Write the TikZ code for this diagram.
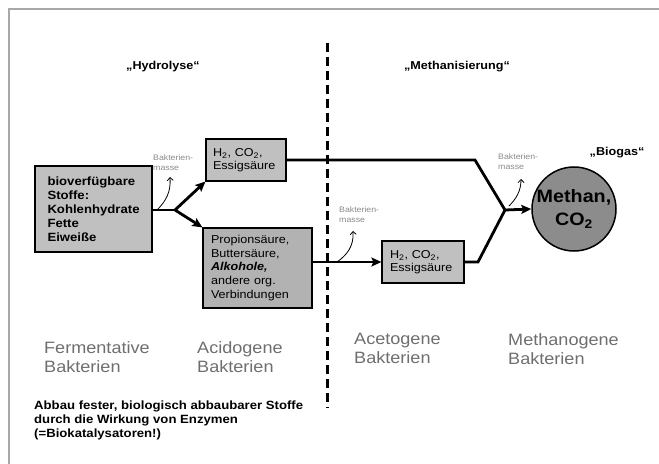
\documentclass[tikz,border=0pt]{standalone}
\usepackage{fontspec}
\setmainfont{Liberation Sans}[FakeStretch=1.1]
\usetikzlibrary{arrows.meta}
\definecolor{boxgray}{HTML}{C0C0C0}
\definecolor{boxdark}{HTML}{B2B2B2}
\definecolor{circgray}{HTML}{8C8C8C}
\definecolor{labgray}{HTML}{6E6E6E}
\definecolor{bmgray}{HTML}{8A8A8A}
\definecolor{framegray}{HTML}{A8A8A8}
\tikzset{
  procbox/.style={draw=black, line width=1.2bp, fill=boxgray, inner sep=0pt, align=left,
    font=\fontsize{11.5}{12.8}\selectfont},
  conn/.style={draw=black, line width=2.8bp},
  connarrow/.style={conn, -{Stealth[length=10bp,width=9bp,inset=2bp]}},
  bmarrow/.style={draw=black, line width=0.8bp, -{Straight Barb[length=3bp,width=6bp]}},
  bmlabel/.style={text=bmgray, inner sep=0pt, align=left, font=\fontsize{8}{10}\selectfont},
  phase/.style={inner sep=0pt, font=\bfseries\fontsize{11.5}{13}\selectfont},
  bact/.style={text=labgray, inner sep=0pt, align=left, font=\fontsize{16.5}{19.5}\selectfont},
}
\begin{document}
\begin{tikzpicture}[x=1bp,y=-1bp]
\useasboundingbox (0,0) rectangle (659,464);
% frame
\coordinate (f1) at (9,464); \coordinate (f2) at (9,9); \coordinate (f3) at (659,9);
\draw[framegray, line width=2bp] (f1) -- (f2) -- (f3);
% dashed divider
\coordinate (dtop) at (327,43); \coordinate (dbot) at (327,408);
\draw[black, line width=3bp, dash pattern=on 9bp off 5bp] (dtop) -- (dbot);
% phase labels
\node[phase] (hyd) at (163,67) {„Hydrolyse“};
\node[phase] (meth) at (457,67) {„Methanisierung“};
\node[phase] (biogas) at (617,153) {„Biogas“};
% boxes
\node[procbox, font=\bfseries\fontsize{12}{14}\selectfont, minimum width=117bp, minimum height=86bp, text width=92bp] (box1) at (93.5,209)
  {bioverfügbare\\Stoffe:\\Kohlenhydrate\\Fette\\Eiweiße};
\node[procbox, minimum width=80bp, minimum height=42bp, text width=66bp] (box2) at (246,160)
  {H\textsubscript{2}, CO\textsubscript{2},\\Essigsäure};
\node[procbox, fill=boxdark, font=\fontsize{11.5}{14}\selectfont, minimum width=109bp, minimum height=80bp, text width=93bp] (box3) at (257.5,268)
  {Propionsäure,\\Buttersäure,\\\textbf{\textit{Alkohole,}}\\andere org.\\Verbindungen};
\node[procbox, minimum width=82bp, minimum height=42bp, text width=66bp] (box4) at (423,262)
  {H\textsubscript{2}, CO\textsubscript{2},\\Essigsäure};
\node[circle, draw=black, line width=1.5bp, fill=circgray, minimum size=84bp, inner sep=0pt, align=center,
  font=\bfseries\fontsize{18}{23}\selectfont] (gas) at (574,209) {Methan,\\CO\textsubscript{2}};
% connectors
\coordinate (br1) at (175,210);
\draw[conn] (box1.east |- br1) -- (br1);
\draw[connarrow] (br1) -- (box2.south west);
\draw[connarrow] (br1) -- (box3.north west);
\coordinate (k1) at (475,160);
\coordinate (jn) at (505,210);
\coordinate (k2) at (478,262);
\draw[conn] (box2.east) -- (k1) -- (jn);
\draw[conn] (box4.east) -- (k2) -- (jn);
\draw[connarrow] (jn) -- (gas.west);
\draw[connarrow] (box3.east |- box4.west) -- (box4.west);
% Bakterienmasse
\coordinate (bm1s) at (157,210); \coordinate (bm1e) at (170,177);
\draw[bmarrow] (bm1s) .. controls (166,201) and (171,192) .. (bm1e);
\node[bmlabel, anchor=north west] (bm1) at (153,155) {Bakterien-\\masse};
\coordinate (bm2s) at (337,262); \coordinate (bm2e) at (353,231);
\draw[bmarrow] (bm2s) .. controls (347,255) and (354,246) .. (bm2e);
\node[bmlabel, anchor=north west] (bm2) at (339,207) {Bakterien-\\masse};
\coordinate (bm3s) at (509,206); \coordinate (bm3e) at (521,179);
\draw[bmarrow] (bm3s) .. controls (516,199) and (521,191) .. (bm3e);
\node[bmlabel, anchor=north west] (bm3) at (498,154) {Bakterien-\\masse};
% bacteria labels
\node[bact, anchor=north west] (ferm) at (44,341) {Fermentative\\Bakterien};
\node[bact, anchor=north west] (acid) at (197,341) {Acidogene\\Bakterien};
\node[bact, anchor=north west] (acet) at (354,333) {Acetogene\\Bakterien};
\node[bact, anchor=north west] (methb) at (508,333) {Methanogene\\Bakterien};
% bottom note
\node[inner sep=0pt, align=left, anchor=north west, font=\bfseries\fontsize{12}{14}\selectfont] (note) at (34,401)
  {Abbau fester, biologisch abbaubarer Stoffe\\durch die Wirkung von Enzymen\\(=Biokatalysatoren!)};
\end{tikzpicture}
\end{document}
